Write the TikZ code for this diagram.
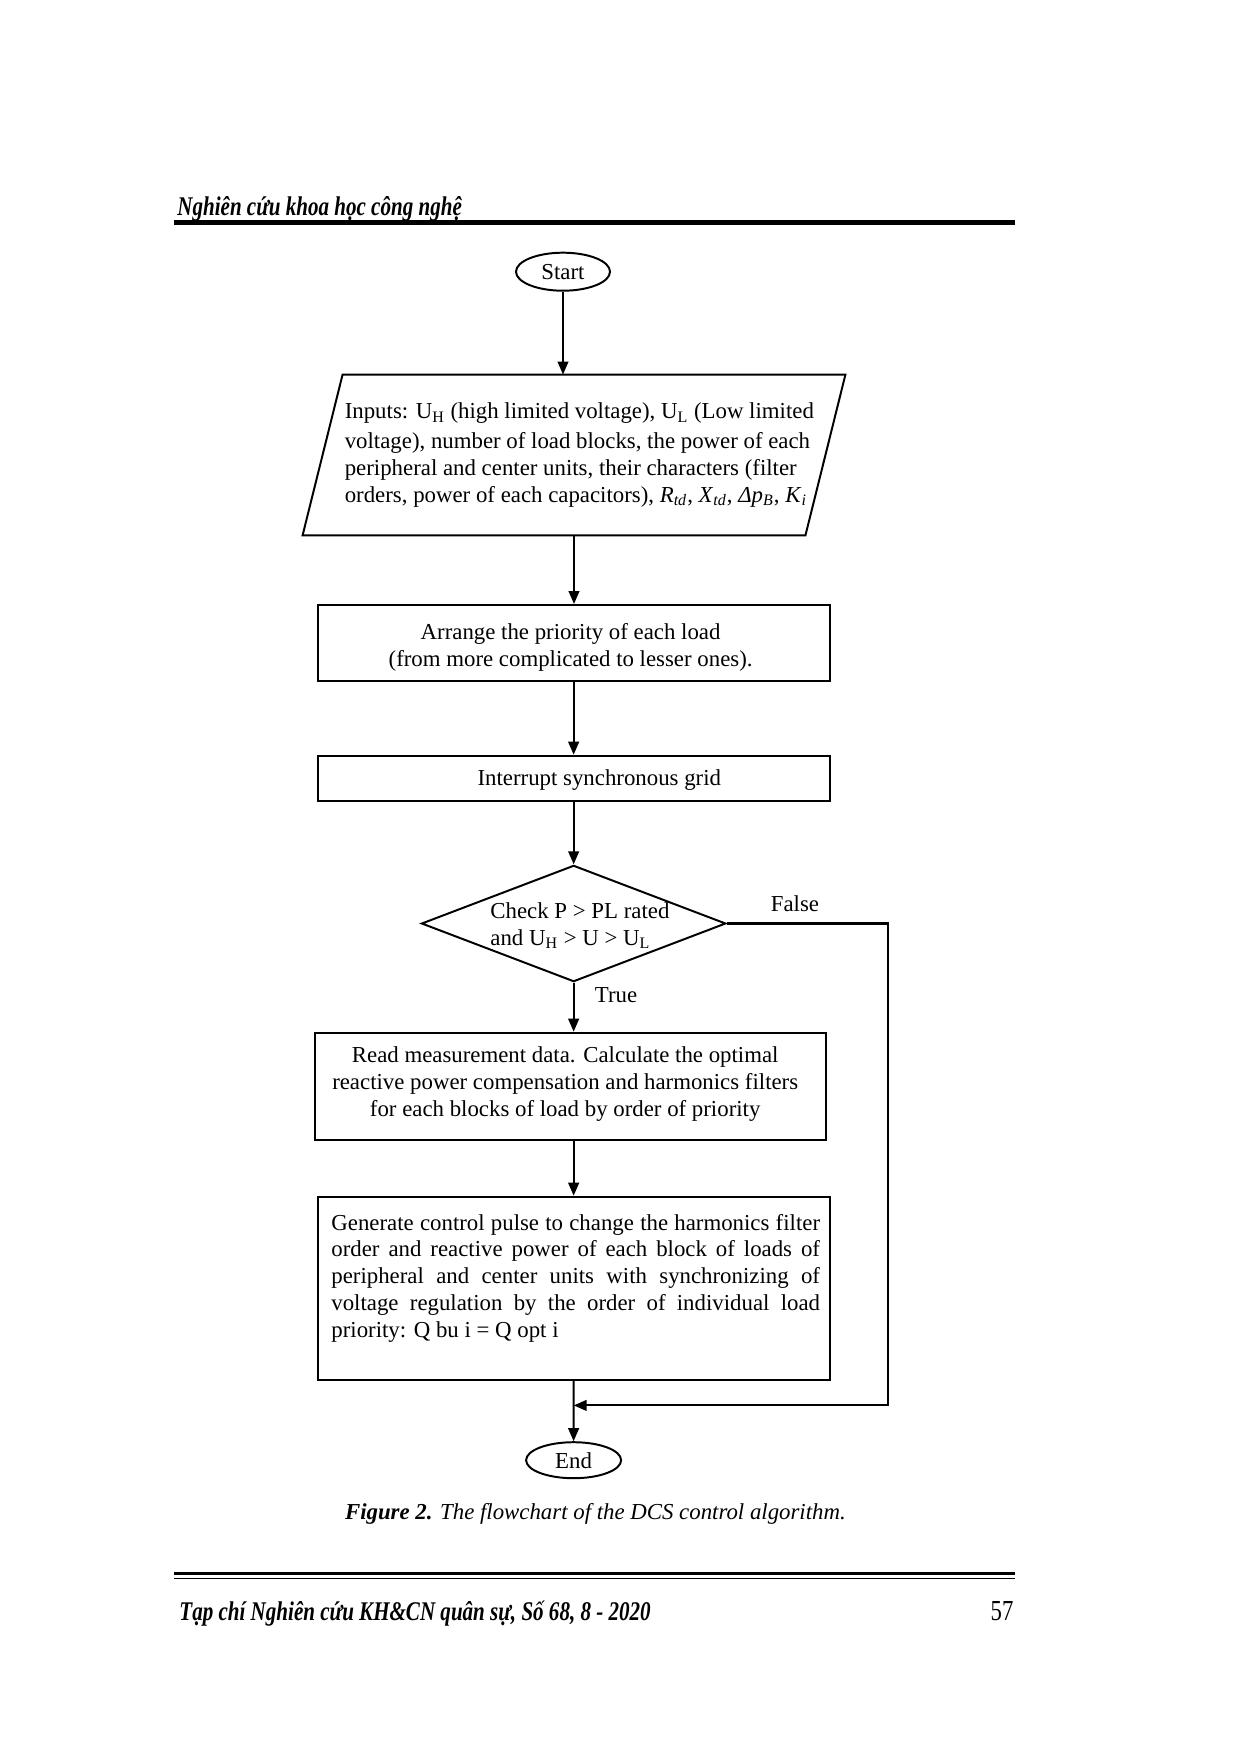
\documentclass[tikz,border=0pt]{standalone}
\usepackage{fontspec}
\setmainfont{Liberation Serif}
\newfontfamily\condfont[FakeStretch=0.78]{Liberation Serif}
\usetikzlibrary{arrows.meta,shapes.geometric,calc}

\tikzset{
  txt/.style={font=\fontsize{11pt}{12.9pt}\selectfont, inner sep=0pt},
  frame/.style={draw, line width=0.95pt, inner sep=0pt},
  boxnode/.style={frame, rectangle},
  termnode/.style={frame, ellipse, font=\fontsize{11pt}{12.9pt}\selectfont},
  flow/.style={line width=1pt, -{Triangle[length=2.2mm,width=1.8mm]}},
  plain/.style={line width=0.95pt},
  pagetext/.style={inner sep=0pt, font=\condfont\fontsize{13pt}{15pt}\selectfont\bfseries\itshape},
}

\begin{document}
\begin{tikzpicture}[x=0.169355mm, y=-0.169355mm]
\useasboundingbox[fill=white] (0,0) rectangle (1240,1754);

% page header
\node[pagetext, anchor=west] (hdr) at (177,208.5) {Nghiên cứu khoa học công nghệ};
\draw[line width=2.2pt] (174,222.5) -- (1015,222.5);

% Start
\node[termnode, minimum width=15.92mm, minimum height=6.44mm] (start) at (563,271.7) {Start};

% Inputs (parallelogram)
\node[minimum width=85.02mm, minimum height=27.10mm, inner sep=0pt] (inp) at (574,455) {};
\draw[plain] ([xshift=3.387mm]inp.north west) -- ([xshift=3.387mm]inp.north east)
  -- ([xshift=-3.387mm]inp.south east) -- ([xshift=-3.387mm]inp.south west) -- cycle;
\node[txt, anchor=north west, align=left] (inpT) at (344.4,402.5)
 {Inputs: U\textsubscript{H} (high limited voltage), U\textsubscript{L} (Low limited\\[1.5pt]
  voltage), number of load blocks, the power of each\\
  peripheral and center units, their characters (filter\\
  orders, power of each capacitors), \textit{R}\textsubscript{\textit{td}}, \textit{X}\textsubscript{\textit{td}}, \textit{Δp}\textsubscript{\textit{B}}, \textit{K}\textsubscript{\textit{i}}};

% Arrange
\node[boxnode, minimum width=86.69mm, minimum height=12.84mm] (arr) at (573.65,642.9) {};
\node[txt, align=center] (arrT) at (570.6,647) {Arrange the priority of each load\\(from more complicated to lesser ones).};

% Interrupt
\node[boxnode, minimum width=86.69mm, minimum height=7.60mm] (intr) at (573.65,778.15) {};
\node[txt] (intrT) at (599.3,780.5) {Interrupt synchronous grid};

% Decision
\node[frame, diamond, minimum width=51.55mm, minimum height=19.70mm] (chk) at (573.65,923.5) {};
\node[txt, anchor=west, align=left] (chkT) at (490,925.5) {Check P > PL rated\\and U\textsubscript{H} > U > U\textsubscript{L}};
\node[txt] (fl) at (795,903.5) {False};
\node[txt] (tr) at (616,995.5) {True};

% Read
\node[boxnode, minimum width=86.59mm, minimum height=18.17mm] (read) at (570.65,1086.35) {};
\node[txt, align=center] (readT) at (565.2,1084.2) {Read measurement data. Calculate the optimal\\reactive power compensation and harmonics filters\\for each blocks of load by order of priority};

% Generate
\node[boxnode, minimum width=86.69mm, minimum height=31.04mm] (gen) at (573.65,1288.35) {};
\node[txt, anchor=north west, align=left] (genT) at (331,1213.5)
 {\makebox[82.75mm][s]{Generate control pulse to change the harmonics filter}\\
  \makebox[82.75mm][s]{order and reactive power of each block of loads of}\\
  \makebox[82.75mm][s]{peripheral and center units with synchronizing of}\\
  \makebox[82.75mm][s]{voltage regulation by the order of individual load}\\
  priority: Q bu i = Q opt i};

% End
\node[termnode, minimum width=16.09mm, minimum height=6.10mm] (end) at (573.6,1460.2) {End};

% connectors
\draw[flow] (start.south) -- (start.south |- inp.north);
\draw[flow] (inp.south) -- (inp.south |- arr.north);
\draw[flow] (arr.south) -- (arr.south |- intr.north);
\draw[flow] (intr.south) -- (intr.south |- chk.north);
\draw[flow] (chk.south) -- (chk.south |- read.north);
\draw[flow] (gen.north |- read.south) -- (gen.north);
\draw[flow] (gen.south) -- (end.north);
\coordinate (fb) at (888,1405.4);
\draw[flow] (chk.east) -| (fb) -- (gen.south |- fb);

% caption
\node[txt] (cap) at (595.4,1513.6) {\textbf{\textit{Figure 2.}} \textit{The flowchart of the DCS control algorithm.}};

% page footer
\draw[line width=1.4pt] (174,1573.5) -- (1015,1573.5);
\draw[line width=0.6pt] (174,1578.5) -- (1015,1578.5);
\node[pagetext, anchor=west] (ftr) at (179,1614) {Tạp chí Nghiên cứu KH\&CN quân sự, Số 68, 8 - 2020};
\node[inner sep=0pt, font=\condfont\fontsize{14pt}{16pt}\selectfont] (pg) at (1002,1611.5) {57};
\end{tikzpicture}
\end{document}
